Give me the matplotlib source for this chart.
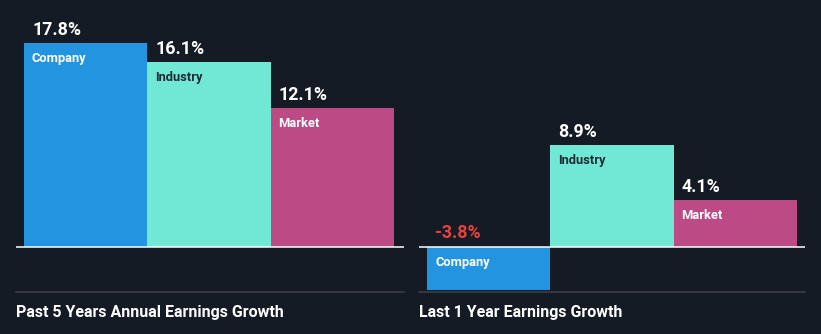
import matplotlib
matplotlib.use("Agg")
import matplotlib.pyplot as plt

# Earnings growth, in percent
categories = ["Company", "Industry", "Market"]
past_5y_growth = [17.8, 16.1, 12.1]
last_1y_growth = [-3.8, 8.9, 4.1]
panel_titles = ["Past 5 Years Annual Earnings Growth", "Last 1 Year Earnings Growth"]

BG = "#151b25"
BAR_COLORS = ["#2394df", "#71e8d6", "#bb4a85"]
INNER_TEXT = ["#ffffff", "#1c2b35", "#ffffff"]
NEG_COLOR = "#e8403f"
FONT = ["Roboto", "DejaVu Sans"]

W, H = 821, 334
fig = plt.figure(figsize=(W / 100, H / 100), dpi=100, facecolor=BG)


def px_axes(x0, x1, y_top, y_bot):
    return fig.add_axes([x0 / W, 1 - y_bot / H, (x1 - x0) / W, (y_bot - y_top) / H])


# shared value scale: zero sits at ~246.5 px, 11.46 px per percentage point
px_per_unit = 11.46
zero_px = 246.5
ymax = zero_px / px_per_unit
ymin = -(292 - zero_px) / px_per_unit

panels = [
    (past_5y_growth, 16, 404, 8),
    (last_1y_growth, 419, 805, 8),
]

for (values, x0, x1, pad), title in zip(panels, panel_titles):
    ax = px_axes(x0, x1, 0, 292)
    ax.set_facecolor(BG)
    width_px = x1 - x0
    bar_w = 123.3 / width_px
    start = pad / width_px
    lefts = [start + i * bar_w for i in range(len(values))]
    ax.bar(lefts, values, width=bar_w, align="edge", color=BAR_COLORS,
           linewidth=0, zorder=2)
    ax.set_xlim(0, 1)
    ax.set_ylim(ymin, ymax)
    ax.axhline(0, color="#ffffff", lw=1.1, zorder=3)
    for s in ["top", "left", "right"]:
        ax.spines[s].set_visible(False)
    ax.spines["bottom"].set_color("#3b4049")
    ax.spines["bottom"].set_linewidth(1.1)
    ax.set_xticks([])
    ax.set_yticks([])

    for left, v, name, tc in zip(lefts, values, categories, INNER_TEXT):
        top = max(v, 0)
        color = "#ffffff" if v >= 0 else NEG_COLOR
        ax.annotate(f"{v:.1f}%", xy=(left, top), xytext=(8, 8),
                    textcoords="offset pixels", ha="left", va="baseline",
                    fontsize=12.8, fontweight="bold", color=color,
                    family=FONT, zorder=4)
        inner_y = v if v >= 0 else 0
        ax.annotate(name, xy=(left, inner_y), xytext=(8, -16),
                    textcoords="offset pixels", ha="left", va="center",
                    fontsize=9.3, fontweight="bold", color=tc,
                    family=FONT, zorder=4)

    fig.text(x0 / W, 1 - 312 / H, title, ha="left", va="center",
             fontsize=11.5, fontweight="bold", color="#ffffff", family=FONT)

fig.savefig("out.png", dpi=100, facecolor=BG)
